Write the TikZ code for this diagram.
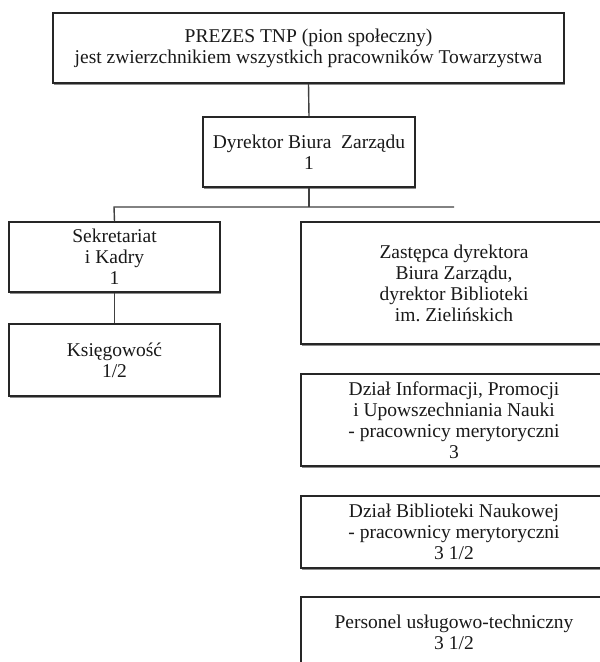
\documentclass[tikz,border=0pt]{standalone}
\usepackage{fontspec}
\setmainfont{Liberation Serif}
\usetikzlibrary{shadows}
\begin{document}
\begin{tikzpicture}[x=1pt,y=-1pt,
 box/.style={draw=black!85,line width=1.6pt,fill=white,align=center,inner sep=0pt,
  font=\fontsize{19.5}{21}\selectfont,text=black!90,
  drop shadow={shadow xshift=1.2pt,shadow yshift=-1.5pt,fill=black!45,opacity=1}},
 link/.style={draw=black!75,line width=1.4pt}]
 \clip (0,0) rectangle (600,662);
 \fill[white] (0,0) rectangle (600,662);
 \node[box,minimum width=511pt,minimum height=70pt] (prezes) at (308.5,48) {PREZES TNP (pion społeczny)\\jest zwierzchnikiem wszystkich pracowników Towarzystwa};
 \node[box,minimum width=212pt,minimum height=70pt] (dyrektor) at (309,152) {Dyrektor Biura\ \ Zarządu\\1};
 \node[box,minimum width=211pt,minimum height=70pt] (sekretariat) at (114.5,257) {Sekretariat\\i Kadry\\1};
 \node[box,minimum width=211pt,minimum height=72pt] (ksiegowosc) at (114.5,360) {Księgowość\\1/2};
 \node[box,minimum width=306pt,minimum height=122pt] (zastepca) at (454,283) {Zastępca dyrektora\\Biura Zarządu,\\dyrektor Biblioteki\\im.\ Zielińskich};
 \node[box,minimum width=306pt,minimum height=92pt] (informacja) at (454,420) {Dział Informacji, Promocji\\i Upowszechniania Nauki\\- pracownicy merytoryczni\\3};
 \node[box,minimum width=306pt,minimum height=72pt] (biblioteka) at (454,532) {Dział Biblioteki Naukowej\\- pracownicy merytoryczni\\3 1/2};
 \node[box,minimum width=306pt,minimum height=70pt] (personel) at (454,632) {Personel usługowo-techniczny\\3 1/2};
 \coordinate (lft) at (114,207);
 \coordinate (rgt) at (454,207);
 \draw[link] (prezes.south) -- (dyrektor.north);
 \draw[link] (dyrektor.south) -- (dyrektor.south |- lft);
 \draw[link] (sekretariat.north) -- (lft) -- (rgt);
 \draw[link] (sekretariat.south) -- (ksiegowosc.north);
\end{tikzpicture}
\end{document}
